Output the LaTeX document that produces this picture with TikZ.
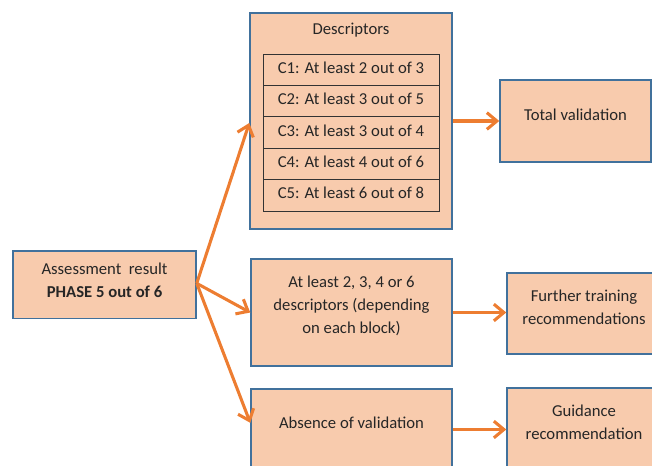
\documentclass[tikz,border=0pt]{standalone}
\usepackage{fontspec}
\setmainfont{Carlito}
\usetikzlibrary{arrows.meta}
\definecolor{peach}{HTML}{F8CBAD}
\definecolor{boxline}{HTML}{41719C}
\definecolor{arrowor}{HTML}{ED7D31}
\tikzset{
    box/.style={draw=boxline, line width=1.1pt, fill=peach, inner sep=0pt},
    row/.style={draw=black!80, line width=0.6pt, inner sep=0pt,
        minimum width=132pt, minimum height=23.55pt},
    txt/.style={align=center, inner sep=0pt, text=black!85,
        font=\fontsize{12.5}{17.25}\selectfont},
    arr/.style={draw=arrowor, line width=2.3pt,
        -{Straight Barb[length=7.5pt,width=12.5pt,line width=2.3pt]}}
}
\begin{document}
\begin{tikzpicture}[x=0.75pt, y=-0.75pt]
        \useasboundingbox (0,0) rectangle (652,466);
        \clip (0,0) rectangle (652,466);

        \node[box, minimum width=137.25pt, minimum height=50.6pt] (res) at (104.5,284.7) {};
        \node[box, minimum width=151.5pt, minimum height=162pt] (desc) at (351,121) {};
        \node[box, minimum width=113.25pt, minimum height=61.5pt] (total) at (575.5,121) {};
        \node[box, minimum width=150.75pt, minimum height=80.25pt] (atleast) at (351.5,312.5) {};
        \node[box, minimum width=115.5pt, minimum height=60.75pt] (further) at (584,313.5) {};
        \node[box, minimum width=150.75pt, minimum height=60.75pt] (absence) at (351.5,429.5) {};
        \node[box, minimum width=115.5pt, minimum height=60.75pt] (guidance) at (584,428.5) {};

        \node[txt] (restxt) at (104.5,280) {Assessment\ \ result\\\textbf{PHASE 5 out of 6}};
        \node[txt] (desctitle) at (351,30) {Descriptors};
        \node[row] (c1) at (351,69.7) {};
        \node[row] (c2) at (351,101.1) {};
        \node[row] (c3) at (351,132.5) {};
        \node[row] (c4) at (351,163.9) {};
        \node[row] (c5) at (351,195.3) {};
        \node[txt] (c1txt) at (351,67.5) {C1: At least 2 out of 3};
        \node[txt] (c2txt) at (351,98.9) {C2: At least 3 out of 5};
        \node[txt] (c3txt) at (351,130.3) {C3: At least 3 out of 4};
        \node[txt] (c4txt) at (351,161.7) {C4: At least 4 out of 6};
        \node[txt] (c5txt) at (351,193.1) {C5: At least 6 out of 8};
        \node[txt] (totaltxt) at (575.5,115) {Total validation};
        \node[txt] (atleasttxt) at (351.5,306) {At least 2, 3, 4 or 6\\descriptors (depending\\on each block)};
        \node[txt] (furthertxt) at (584,307) {Further training\\recommendations};
        \node[txt] (absencetxt) at (351.5,423) {Absence of validation};
        \node[txt] (guidancetxt) at (584,422.5) {Guidance\\recommendation};

        \draw[arr] ([yshift=1pt]res.east) -- ([yshift=-1.5pt]desc.west);
        \draw[arr] ([yshift=1pt]res.east) -- (atleast.west);
        \draw[arr] ([yshift=1pt]res.east) -- ([yshift=5pt]absence.west);
        \draw[arr] (desc.east) -- (total.west);
        \draw[arr] (atleast.east) -- (further.west |- atleast.east);
        \draw[arr] (absence.east) -- (guidance.west |- absence.east);
\end{tikzpicture}
\end{document}
